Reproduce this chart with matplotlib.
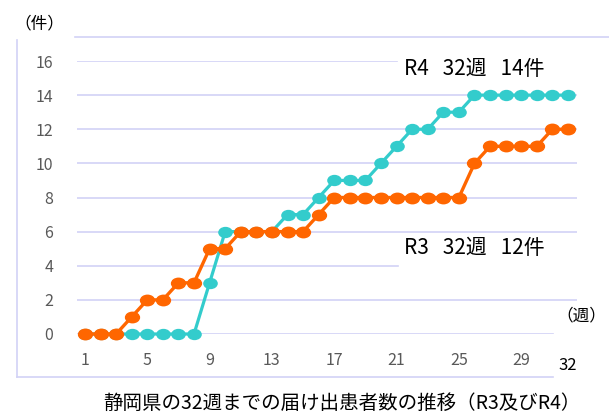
import matplotlib
matplotlib.use("Agg")
import matplotlib.pyplot as plt
from matplotlib.path import Path
from matplotlib.transforms import Affine2D
from matplotlib.lines import Line2D

plt.rcParams['font.family'] = ['Noto Sans CJK JP', 'DejaVu Sans']

weeks = list(range(1, 33))
r3 = [0, 0, 0, 1, 2, 2, 3, 3, 5, 5, 6, 6, 6, 6, 6, 7,
      8, 8, 8, 8, 8, 8, 8, 8, 8, 10, 11, 11, 11, 11, 12, 12]
r4 = [0, 0, 0, 0, 0, 0, 0, 0, 3, 6, 6, 6, 6, 7, 7, 8,
      9, 9, 9, 10, 11, 12, 12, 13, 13, 14, 14, 14, 14, 14, 14, 14]
xtick_vals = [1, 5, 9, 13, 17, 21, 25, 29]
ytick_vals = [0, 2, 4, 6, 8, 10, 12, 14, 16]
label_r4 = "R4   32週   14件"
label_r3 = "R3   32週   12件"
title = "静岡県の32週までの届け出患者数の推移（R3及びR4）"

W, H = 609, 412
fig = plt.figure(figsize=(W / 100, H / 100), dpi=100)

def fx(px):
    return px / W

def fy(py):
    return 1 - py / H

ax = fig.add_axes([fx(77), fy(334), fx(577) - fx(77), fy(61) - fy(334)])
ax.set_xlim(0.49, 32.58)
ax.set_ylim(0, 16)
for s in ax.spines.values():
    s.set_visible(False)

grid_c = "#D2D2F6"
grid_end = {16: 0.64, 4: 0.642, 0: 0.952}
for v in ytick_vals:
    ax.axhline(v, xmin=0, xmax=grid_end.get(v, 1.0), color=grid_c, lw=1.2, zorder=0)

ell = Path.unit_circle().transformed(Affine2D().scale(1.33, 1.0))

ax.plot(weeks, r4, color="#33CCCC", lw=2.3, marker=ell, markersize=9.5,
        clip_on=False, zorder=3)
ax.plot(weeks, r3, color="#FF6600", lw=2.4, marker=ell, markersize=10,
        clip_on=False, zorder=4)

ax.set_yticks(ytick_vals)
ax.set_yticklabels([str(v) for v in ytick_vals])
ax.set_xticks(xtick_vals)
ax.set_xticklabels([str(v) for v in xtick_vals])
ax.tick_params(axis='y', length=0, pad=17, labelsize=11.5, labelcolor="#595959")
ax.tick_params(axis='x', length=0, pad=13, labelsize=11.5, labelcolor="#595959")

ax.text(32, -1.85, "32", ha="center", va="center", fontsize=12, color="black",
        clip_on=False)

fig.text(fx(404), fy(69), label_r4, ha="left", va="center", fontsize=15, color="black")
fig.text(fx(404), fy(248), label_r3, ha="left", va="center", fontsize=15, color="black")
fig.text(fx(14), fy(24), "（件）", ha="left", va="center", fontsize=12, color="black")
fig.text(fx(556), fy(316), "（週）", ha="left", va="center", fontsize=12, color="black")
fig.text(fx(342), fy(403), title, ha="center", va="center", fontsize=14, color="black")

frame_c = "#D2D2F6"
fig.add_artist(Line2D([fx(75), 1.0], [fy(37), fy(37)], color=frame_c, lw=1.2))
fig.add_artist(Line2D([fx(17), fx(17)], [fy(40), fy(377)], color=frame_c, lw=1.2))
fig.add_artist(Line2D([fx(17), fx(553)], [fy(377), fy(377)], color=frame_c, lw=1.2))

fig.savefig("out.png", dpi=100)
